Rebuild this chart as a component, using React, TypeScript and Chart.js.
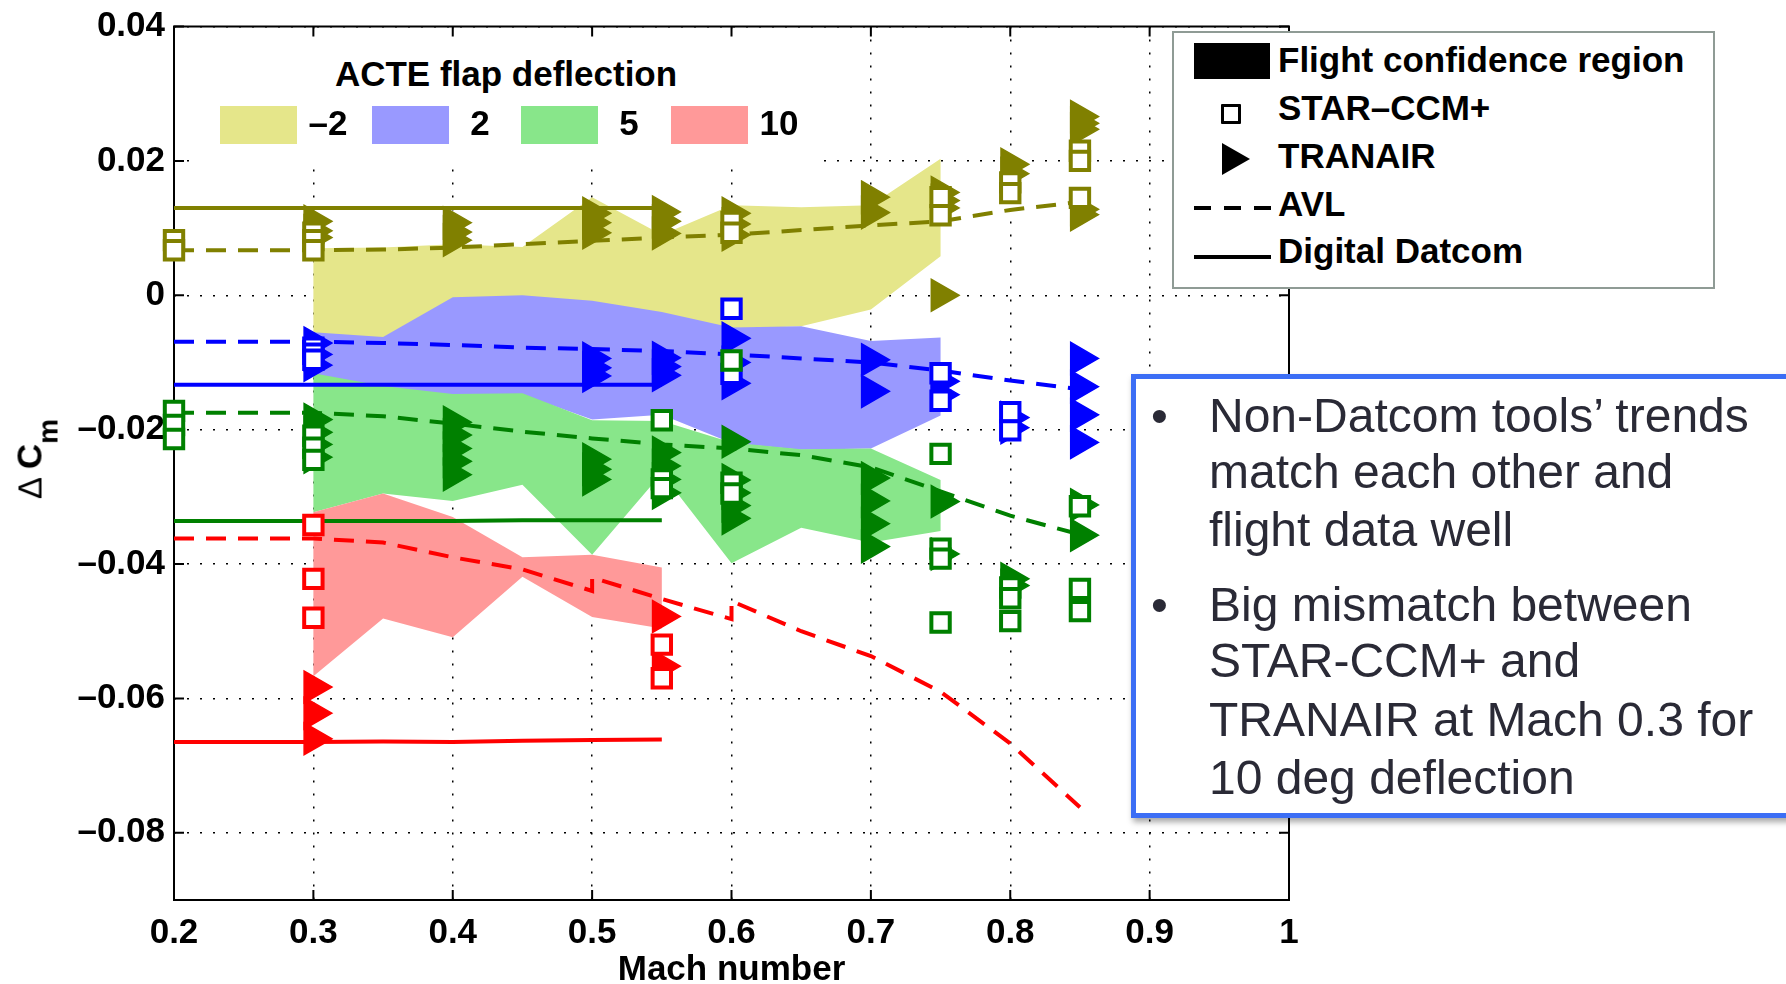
import React, { useEffect, useRef } from 'react';
import { Chart, registerables } from 'chart.js';

Chart.register(...registerables);

const W = 1786;
const H = 984;
const FONT = "'Liberation Sans', Arial, Helvetica, sans-serif";

// ---------- axes ----------
const X_TICKS = [0.2, 0.3, 0.4, 0.5, 0.6, 0.7, 0.8, 0.9, 1.0];
const X_TICK_LABELS = ['0.2', '0.3', '0.4', '0.5', '0.6', '0.7', '0.8', '0.9', '1'];
const Y_TICKS = [-0.08, -0.06, -0.04, -0.02, 0, 0.02, 0.04];
const Y_TICK_LABELS = ['\u20130.08', '\u20130.06', '\u20130.04', '\u20130.02', '0', '0.02', '0.04'];

// ---------- series (ACTE flap deflection) ----------
const DEFLECTIONS = ['\u20132', '2', '5', '10'];

// Flight confidence regions (upper / lower bounds)
const REGION_MACH = [0.3, 0.35, 0.4, 0.45, 0.5, 0.55, 0.6, 0.65, 0.7, 0.75];
const REGION_M2_UPPER = [0.007, 0.0071, 0.0076, 0.0072, 0.0146, 0.009, 0.0134, 0.0131, 0.0134, 0.0203];
const REGION_M2_LOWER = [-0.0058, -0.0063, -0.004, -0.004, -0.0045, -0.005, -0.005, -0.0046, -0.0021, 0.0058];
const REGION_P2_UPPER = [-0.0055, -0.0062, -0.0003, 0.0, -0.0008, -0.0025, -0.0048, -0.0046, -0.0068, -0.0063];
const REGION_P2_LOWER = [-0.0117, -0.0137, -0.0149, -0.0148, -0.0185, -0.0178, -0.022, -0.023, -0.0228, -0.0179];
const REGION_P5_UPPER = [-0.0116, -0.0135, -0.0147, -0.0146, -0.0186, -0.0187, -0.0219, -0.0229, -0.0228, -0.0275];
const REGION_P5_LOWER = [-0.0323, -0.0295, -0.0306, -0.0282, -0.0386, -0.0265, -0.0399, -0.0346, -0.0368, -0.0351];
const REGION_P10_MACH = [0.3, 0.35, 0.4, 0.45, 0.5, 0.55];
const REGION_P10_UPPER = [-0.0323, -0.0295, -0.033, -0.039, -0.0386, -0.0405];
const REGION_P10_LOWER = [-0.0567, -0.0481, -0.0509, -0.0419, -0.0479, -0.0496];

// AVL
const AVL_MACH = [0.2, 0.3, 0.35, 0.4, 0.45, 0.5, 0.55, 0.6, 0.65, 0.7, 0.75, 0.8, 0.85];
const AVL_M2 = [0.0067, 0.0067, 0.0068, 0.0071, 0.0076, 0.0081, 0.0086, 0.009, 0.0097, 0.0104, 0.011, 0.0127, 0.0139];
const AVL_P2 = [-0.0069, -0.0069, -0.0071, -0.0074, -0.0078, -0.008, -0.0083, -0.0088, -0.0094, -0.01, -0.0112, -0.0127, -0.014];
const AVL_P5 = [-0.0175, -0.0175, -0.018, -0.0191, -0.0203, -0.0213, -0.0222, -0.0228, -0.0238, -0.0256, -0.0292, -0.0328, -0.0356];
const AVL_P10_MACH = [0.2, 0.3, 0.35, 0.4, 0.45, 0.5, 0.5, 0.55, 0.6, 0.6, 0.65, 0.7, 0.75, 0.8, 0.85];
const AVL_P10 = [-0.0362, -0.0362, -0.0368, -0.039, -0.0408, -0.044, -0.042, -0.0452, -0.0482, -0.0455, -0.05, -0.0537, -0.059, -0.0667, -0.0762];

// Digital Datcom
const DATCOM_MACH = [0.2, 0.3, 0.35, 0.4, 0.45, 0.5, 0.55];
const DATCOM_M2 = [0.013, 0.013, 0.013, 0.013, 0.013, 0.013, 0.013];
const DATCOM_P2 = [-0.0133, -0.0133, -0.0133, -0.0133, -0.0133, -0.0133, -0.0133];
const DATCOM_P5 = [-0.0336, -0.0336, -0.0336, -0.0336, -0.0335, -0.0335, -0.0335];
const DATCOM_P10 = [-0.0665, -0.0665, -0.0664, -0.0665, -0.0663, -0.0662, -0.0661];

// STAR-CCM+
const STAR_M2_MACH = [0.2, 0.2, 0.3, 0.3, 0.3, 0.6, 0.6, 0.75, 0.75, 0.8, 0.8, 0.85, 0.85, 0.85];
const STAR_M2 = [0.0082, 0.0067, 0.0093, 0.0082, 0.0067, 0.0109, 0.0093, 0.0146, 0.0119, 0.0168, 0.0152, 0.0215, 0.02, 0.0145];
const STAR_P2_MACH = [0.3, 0.3, 0.3, 0.6, 0.6, 0.75, 0.75, 0.8, 0.8];
const STAR_P2 = [-0.0078, -0.0087, -0.0096, -0.002, -0.0117, -0.0116, -0.0157, -0.0174, -0.0201];
const STAR_P5_MACH = [0.2, 0.2, 0.2, 0.3, 0.3, 0.3, 0.55, 0.55, 0.55, 0.6, 0.6, 0.6, 0.75, 0.75, 0.75, 0.75, 0.8, 0.8, 0.8, 0.85, 0.85, 0.85];
const STAR_P5 = [-0.0172, -0.0193, -0.0214, -0.0209, -0.0227, -0.0245, -0.0186, -0.0274, -0.0287, -0.0097, -0.0279, -0.0295, -0.0236, -0.0377, -0.0392, -0.0487, -0.0435, -0.0451, -0.0485, -0.0314, -0.0437, -0.047];
const STAR_P10_MACH = [0.3, 0.3, 0.3, 0.55, 0.55];
const STAR_P10 = [-0.0342, -0.0422, -0.048, -0.052, -0.057];

// TRANAIR
const TRAN_M2_MACH = [0.3, 0.3, 0.3, 0.4, 0.4, 0.4, 0.5, 0.5, 0.5, 0.55, 0.55, 0.55, 0.6, 0.6, 0.6, 0.7, 0.7, 0.75, 0.75, 0.75, 0.75, 0.8, 0.8, 0.85, 0.85, 0.85, 0.85, 0.85];
const TRAN_M2 = [0.011, 0.0096, 0.0086, 0.0108, 0.0094, 0.0082, 0.0122, 0.0108, 0.0093, 0.0124, 0.011, 0.0092, 0.0122, 0.0106, 0.009, 0.0146, 0.0123, 0.0153, 0.0141, 0.013, 0.0, 0.0195, 0.0181, 0.0266, 0.0256, 0.0247, 0.0128, 0.012];
const TRAN_P2_MACH = [0.3, 0.3, 0.3, 0.5, 0.5, 0.5, 0.55, 0.55, 0.55, 0.6, 0.6, 0.6, 0.7, 0.7, 0.75, 0.75, 0.8, 0.8, 0.85, 0.85, 0.85, 0.85];
const TRAN_P2 = [-0.0071, -0.0088, -0.0104, -0.0094, -0.0108, -0.012, -0.0093, -0.0106, -0.0119, -0.0064, -0.01, -0.0131, -0.0096, -0.0143, -0.0128, -0.0148, -0.0182, -0.0197, -0.0094, -0.0136, -0.0178, -0.0219];
const TRAN_P5_MACH = [0.3, 0.3, 0.3, 0.3, 0.4, 0.4, 0.4, 0.4, 0.4, 0.5, 0.5, 0.5, 0.55, 0.55, 0.55, 0.55, 0.6, 0.6, 0.6, 0.6, 0.6, 0.7, 0.7, 0.7, 0.7, 0.75, 0.75, 0.8, 0.8, 0.85, 0.85];
const TRAN_P5 = [-0.0185, -0.0204, -0.0222, -0.0241, -0.0189, -0.0208, -0.0228, -0.0247, -0.0267, -0.0244, -0.0259, -0.0274, -0.0234, -0.0254, -0.0274, -0.0294, -0.0218, -0.0275, -0.0294, -0.0313, -0.0332, -0.0272, -0.0306, -0.034, -0.0374, -0.0307, -0.0385, -0.0422, -0.0432, -0.0312, -0.0357];
const TRAN_P10_MACH = [0.3, 0.3, 0.3, 0.55, 0.55];
const TRAN_P10 = [-0.0583, -0.0622, -0.066, -0.0478, -0.0552];

// ---------- styles ----------
const LINE_COLORS = ['#808000', '#0000ff', '#008000', '#ff0000'];
const FILL_COLORS = ['rgb(229,230,138)', 'rgb(153,153,255)', 'rgb(136,230,138)', 'rgb(255,153,153)'];

type P = { x: number; y: number };
const pts = (xs: number[], ys: number[]): P[] => xs.map((x, i) => ({ x, y: ys[i] }));
const poly = (xs: number[], up: number[], lo: number[]): P[] => [...pts(xs, up), ...pts(xs, lo).reverse()];

const REGIONS = [
  poly(REGION_MACH, REGION_M2_UPPER, REGION_M2_LOWER),
  poly(REGION_MACH, REGION_P2_UPPER, REGION_P2_LOWER),
  poly(REGION_MACH, REGION_P5_UPPER, REGION_P5_LOWER),
  poly(REGION_P10_MACH, REGION_P10_UPPER, REGION_P10_LOWER),
];
const AVL = [pts(AVL_MACH, AVL_M2), pts(AVL_MACH, AVL_P2), pts(AVL_MACH, AVL_P5), pts(AVL_P10_MACH, AVL_P10)];
const DATCOM = [pts(DATCOM_MACH, DATCOM_M2), pts(DATCOM_MACH, DATCOM_P2), pts(DATCOM_MACH, DATCOM_P5), pts(DATCOM_MACH, DATCOM_P10)];
const STAR = [pts(STAR_M2_MACH, STAR_M2), pts(STAR_P2_MACH, STAR_P2), pts(STAR_P5_MACH, STAR_P5), pts(STAR_P10_MACH, STAR_P10)];
const TRAN = [pts(TRAN_M2_MACH, TRAN_M2), pts(TRAN_P2_MACH, TRAN_P2), pts(TRAN_P5_MACH, TRAN_P5), pts(TRAN_P10_MACH, TRAN_P10)];

function buildDatasets() {
  const ds: any[] = [];
  for (let i = 0; i < 4; i++) {
    ds.push({
      label: `region ${DEFLECTIONS[i]}`,
      data: REGIONS[i],
      order: 104 - i,
      fill: 'shape',
      backgroundColor: FILL_COLORS[i],
      borderWidth: 0,
      pointRadius: 0,
      clip: false,
    });
    ds.push({
      label: `AVL ${DEFLECTIONS[i]}`,
      data: AVL[i],
      order: 64 - i,
      fill: false,
      borderColor: LINE_COLORS[i],
      borderWidth: 4,
      borderDash: [20, 12],
      pointRadius: 0,
    });
    ds.push({
      label: `Datcom ${DEFLECTIONS[i]}`,
      data: DATCOM[i],
      order: 54 - i,
      fill: false,
      borderColor: LINE_COLORS[i],
      borderWidth: 4,
      pointRadius: 0,
    });
    ds.push({
      label: `TRANAIR ${DEFLECTIONS[i]}`,
      data: TRAN[i],
      order: 24 - i,
      showLine: false,
      fill: false,
      pointStyle: 'triangle',
      pointRotation: 90,
      pointRadius: 18.5,
      pointBorderWidth: 1.5,
      pointBackgroundColor: LINE_COLORS[i],
      pointBorderColor: LINE_COLORS[i],
      clip: false,
    });
    ds.push({
      label: `STAR-CCM+ ${DEFLECTIONS[i]}`,
      data: STAR[i],
      order: 14 - i,
      showLine: false,
      fill: false,
      pointStyle: 'rect',
      pointRadius: 13,
      pointBorderWidth: 4,
      pointBackgroundColor: '#ffffff',
      pointBorderColor: LINE_COLORS[i],
      clip: false,
    });
  }
  return ds;
}

const framePlugin = {
  id: 'matlabFrame',
  beforeDatasetsDraw(chart: any) {
    const { ctx, chartArea: a, scales } = chart;
    ctx.save();
    ctx.setLineDash([]);
    ctx.strokeStyle = '#000';
    ctx.lineWidth = 2;
    ctx.strokeRect(a.left, a.top, a.right - a.left, a.bottom - a.top);
    ctx.beginPath();
    const t = 10;
    for (const v of X_TICKS) {
      const px = scales.x.getPixelForValue(v);
      ctx.moveTo(px, a.bottom);
      ctx.lineTo(px, a.bottom - t);
      ctx.moveTo(px, a.top);
      ctx.lineTo(px, a.top + t);
    }
    for (const v of Y_TICKS) {
      const py = scales.y.getPixelForValue(v);
      ctx.moveTo(a.left, py);
      ctx.lineTo(a.left + t, py);
      ctx.moveTo(a.right, py);
      ctx.lineTo(a.right - t, py);
    }
    ctx.stroke();
    ctx.restore();
  },
};

const tickFont = { family: FONT, weight: 'bold' as const, size: 35, lineHeight: 1 };

const abs = (left: number, top: number, extra: React.CSSProperties = {}): React.CSSProperties => ({
  position: 'absolute',
  left,
  top,
  ...extra,
});

const LEGEND_ROWS = ['Flight confidence region', 'STAR\u2013CCM+', 'TRANAIR', 'AVL', 'Digital Datcom'];
const LEGEND_BASELINES = [72, 120, 168, 216, 263];
const NOTE_LINES = [
  'Non-Datcom tools\u2019 trends',
  'match each other and',
  'flight data well',
  'Big mismatch between',
  'STAR-CCM+ and',
  'TRANAIR at Mach 0.3 for',
  '10 deg deflection',
];
const NOTE_BASELINES = [433, 489, 547, 622, 678, 737, 795];
const BULLET_BASELINES = [433, 622];
const SWATCH_LEFTS = [220, 372, 521, 671];

export default function App() {
  const canvasRef = useRef<HTMLCanvasElement | null>(null);

  useEffect(() => {
    const canvas = canvasRef.current;
    if (!canvas) return;
    const chart = new Chart(canvas, {
      type: 'line',
      data: { datasets: buildDatasets() },
      plugins: [framePlugin],
      options: {
        animation: false,
        responsive: false,
        devicePixelRatio: 1,
        events: [],
        layout: { padding: { left: 0, top: 19.5, right: W - 1289, bottom: 0 } },
        plugins: {
          legend: { display: false },
          tooltip: { enabled: false },
          title: { display: false },
        },
        scales: {
          x: {
            type: 'linear',
            min: 0.2,
            max: 1.0,
            afterFit: (s: any) => {
              s.height = H - 900;
            },
            afterBuildTicks: (s: any) => {
              s.ticks = X_TICKS.map((v) => ({ value: v }));
            },
            ticks: {
              autoSkip: false,
              maxRotation: 0,
              padding: 16,
              color: '#000',
              font: tickFont,
              callback: (_v: any, i: number) => X_TICK_LABELS[i],
            },
            grid: { color: '#000', lineWidth: 1.5, drawTicks: false },
            border: { display: false, dash: [2, 11] },
            title: {
              display: true,
              text: 'Mach number',
              color: '#000',
              font: { family: FONT, weight: 'bold', size: 35, lineHeight: 1 },
              padding: { top: 0, bottom: -4 },
            },
          },
          y: {
            type: 'linear',
            min: -0.09,
            max: 0.04,
            afterFit: (s: any) => {
              s.width = 174;
            },
            afterBuildTicks: (s: any) => {
              s.ticks = Y_TICKS.map((v) => ({ value: v }));
            },
            ticks: {
              autoSkip: false,
              padding: 9,
              color: '#000',
              font: tickFont,
              callback: (_v: any, i: number) => Y_TICK_LABELS[i],
            },
            grid: { color: '#000', lineWidth: 1.5, drawTicks: false },
            border: { display: false, dash: [2, 11] },
          },
        },
      } as any,
    });
    return () => chart.destroy();
  }, []);

  const boldText: React.CSSProperties = {
    fontFamily: FONT,
    fontWeight: 700,
    fontSize: 35,
    lineHeight: '40px',
    color: '#000',
    whiteSpace: 'nowrap',
  };
  const noteText: React.CSSProperties = {
    fontFamily: FONT,
    fontWeight: 400,
    fontSize: 48,
    lineHeight: '52px',
    color: '#2a2a36',
    whiteSpace: 'nowrap',
  };

  return (
    <div style={{ position: 'fixed', left: 0, top: 0, width: W, height: H, overflow: 'hidden', background: '#fff' }}>
      <canvas ref={canvasRef} width={W} height={H} style={{ position: 'absolute', left: 0, top: 0, width: W, height: H }} />

      {/* y-axis title */}
      <div
        style={{
          ...boldText,
          position: 'absolute',
          left: 31,
          top: 459,
          transform: 'translate(-50%, -50%) rotate(-90deg)',
        }}
      >
        <span style={{ fontWeight: 400, fontSize: 33 }}>{'\u0394'}</span>
        <span style={{ marginLeft: 8 }}>C</span>
        <span style={{ fontSize: 28, position: 'relative', top: 16 }}>m</span>
      </div>

      {/* ACTE flap deflection legend */}
      <div style={abs(190, 37, { width: 626, height: 126, background: '#fff' })} />
      <div style={{ ...boldText, ...abs(306, 54, { width: 400, textAlign: 'center' }) }}>ACTE flap deflection</div>
      {DEFLECTIONS.map((d, i) => (
        <React.Fragment key={d}>
          <div style={abs(SWATCH_LEFTS[i], 106, { width: 77, height: 38, background: FILL_COLORS[i] })} />
          <div style={{ ...boldText, ...abs(SWATCH_LEFTS[i] + 77 + 31 - 40, 103, { width: 80, textAlign: 'center' }) }}>{d}</div>
        </React.Fragment>
      ))}

      {/* tools legend */}
      <div
        style={abs(1172, 31, {
          width: 543,
          height: 258,
          boxSizing: 'border-box',
          border: '2px solid #8f9b95',
          background: '#fff',
        })}
      />
      <div style={abs(1194, 43, { width: 76, height: 36, background: '#000' })} />
      <div style={abs(1221, 104, { width: 20, height: 20, boxSizing: 'border-box', border: '3.5px solid #000', background: '#fff', borderRadius: 1 })} />
      <div
        style={abs(1222, 143, {
          width: 0,
          height: 0,
          borderTop: '16.5px solid transparent',
          borderBottom: '16.5px solid transparent',
          borderLeft: '28px solid #000',
        })}
      />
      {[1194, 1224, 1254].map((l) => (
        <div key={l} style={abs(l, 206, { width: 17, height: 4, background: '#000' })} />
      ))}
      <div style={abs(1194, 255, { width: 77, height: 4, background: '#000' })} />
      {LEGEND_ROWS.map((t, i) => (
        <div key={t} style={{ ...boldText, ...abs(1278, LEGEND_BASELINES[i] - 32) }}>
          {t}
        </div>
      ))}

      {/* note box */}
      <div
        style={abs(1131, 374, {
          width: 720,
          height: 444,
          boxSizing: 'border-box',
          border: '5px solid #3c6ef5',
          background: '#fff',
          boxShadow: '2px 4px 6px rgba(0,0,0,0.35)',
        })}
      />
      {BULLET_BASELINES.map((b) => (
        <div key={b} style={{ ...noteText, ...abs(1151, b - 43) }}>
          {'\u2022'}
        </div>
      ))}
      {NOTE_LINES.map((t, i) => (
        <div key={t} style={{ ...noteText, ...abs(1209, NOTE_BASELINES[i] - 43) }}>
          {t}
        </div>
      ))}
    </div>
  );
}
